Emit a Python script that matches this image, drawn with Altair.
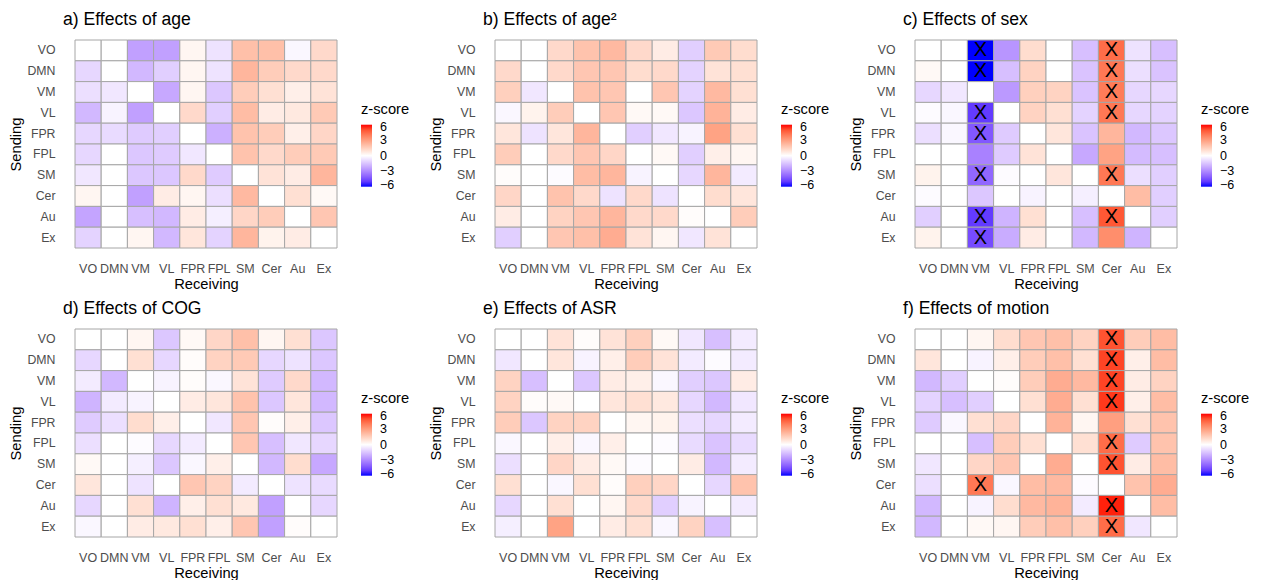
import altair as alt
import pandas as pd

NETS = ["VO", "DMN", "VM", "VL", "FPR", "FPL", "SM", "Cer", "Au", "Ex"]

TITLES = ["a) Effects of age", "b) Effects of age\u00b2", "c) Effects of sex",
          "d) Effects of COG", "e) Effects of ASR", "f) Effects of motion"]

# rows = sending (VO..Ex), columns = receiving (VO..Ex)
Z_AGE = [
    [0, 0, -2.4, -2.4, 0.3, -0.7, 2.0, 2.0, -0.2, 1.2],
    [-1.0, 0, -1.8, -1.2, 0.3, -0.7, 2.3, 1.6, 1.2, 1.2],
    [-0.8, -0.6, 0, -2.2, 0.3, -1.4, 1.6, 1.0, 0.5, 0.9],
    [-1.8, -0.3, -2.4, 0, 1.2, -1.2, 2.1, 0.6, 0.7, 1.7],
    [-1.0, -0.9, -1.3, -1.2, 0, -2.0, 1.9, 1.6, 0.5, 1.3],
    [-1.0, 0, -1.4, -1.3, -0.6, 0, 1.9, 1.2, 1.6, 1.7],
    [-0.6, 0, -1.4, -1.4, 1.2, -1.3, 0, 0.9, 0.6, 2.3],
    [0.3, 0, -2.4, 0.6, 0.3, -0.8, 2.2, 0, 1.0, 0.2],
    [-2.3, 0, -1.6, -1.8, 0.6, -0.4, 1.3, 1.6, 0, 1.8],
    [-1.1, 0, 0.3, -1.8, 0.8, -1.1, 2.3, 0.4, 0.6, 0],
]
Z_AGE2 = [
    [0, 0, 1.2, 1.9, 2.2, 1.2, 0.6, -1.2, 1.7, 1.1],
    [1.2, 0, 1.2, 1.8, 1.8, 1.1, 1.2, -1.1, 0.9, 1.0],
    [1.5, -0.6, 0, 1.9, 1.8, 0, 1.8, -1.1, 2.2, 1.0],
    [-0.2, 0.4, 1.6, 0, 1.8, 0.2, 0.2, -1.4, 2.4, 0.6],
    [0.8, -0.7, 0.8, 2.3, 0, -1.2, -0.6, -0.3, 2.9, 1.0],
    [1.6, 0, 1.2, 1.8, 1.3, 0, 0.2, -1.2, 0.5, 0.3],
    [0.1, 0, -0.1, 2.1, 2.3, -0.3, 0, -1.0, 2.3, -0.5],
    [1.3, 0, 1.9, 1.2, -0.7, 1.2, -0.7, 0, 1.1, 0.8],
    [0.6, 0, 1.4, 1.8, 2.3, 1.2, 1.2, 0.1, 0, 1.6],
    [-1.2, 0, 1.8, 2.0, 2.6, 0.9, 0.3, -0.6, 0.9, 0],
]
Z_SEX = [
    [0, 0, -6.0, -2.7, 1.1, 0, -1.6, 4.4, -0.7, -1.6],
    [0.2, 0, -6.0, -1.6, 1.4, 0, -1.5, 4.1, -0.8, -1.5],
    [-1.0, -0.6, 0, -2.6, 1.5, 1.4, -1.5, 4.0, -1.0, -1.0],
    [-0.1, -0.2, -5.0, 0, 1.4, 1.0, -1.1, 4.1, -1.0, -1.1],
    [-0.8, -0.2, -4.3, -1.3, 0, 0.8, -1.5, 2.3, -1.8, -1.4],
    [0, 0, -3.2, -1.3, 0.9, 0, -2.2, 2.9, -1.7, -1.6],
    [0.4, 0, -3.9, -0.1, 0, 0.8, 0, 4.1, -0.8, -1.2],
    [-0.1, 0, -1.4, 0, -0.3, 0, -0.4, 0, 2.1, -1.2],
    [-1.2, 0, -5.0, -1.9, 1.0, 0, -1.6, 4.9, 0, -1.2],
    [0.4, 0, -4.6, -2.1, 0.6, 0, -1.8, 3.5, -1.9, 0],
]
Z_COG = [
    [0, 0, 0.3, -1.4, 0.2, 1.3, 2.0, 0.3, 1.0, -1.4],
    [-1.0, 0, 1.0, -1.0, 0.1, 1.4, 1.7, -1.0, -0.7, -1.4],
    [-0.5, -1.8, 0, -0.3, 0.1, -0.2, 0.9, -1.3, 1.2, -1.8],
    [-1.9, -0.5, -0.3, 0, 0.6, 0.8, 1.9, -1.4, 0.8, -1.8],
    [-1.3, -0.8, 1.1, 0.5, 0, -0.6, 1.8, 0.1, 0.5, -1.4],
    [-0.8, 0, -0.1, -1.0, -0.5, 0, 1.8, -1.6, -0.6, -1.0],
    [0.2, 0, -0.4, -1.4, -0.2, 0.5, 0, -1.8, 1.1, -2.2],
    [0.8, 0, -0.7, 0, 1.8, 1.4, -0.5, 0, -0.7, -0.9],
    [-1.0, 0, 1.0, -1.9, 0.5, 1.0, 0.7, -2.4, 0, -1.0],
    [-0.2, 0, 0.6, 0.7, 1.0, 0.5, 1.8, -2.4, 0.1, 0],
]
Z_ASR = [
    [0, 0, 0.9, 0.1, 0.9, 1.5, 0.2, -0.6, -1.6, -0.5],
    [-0.6, 0, 0.8, -0.3, 0.5, 1.6, 0.9, -0.5, -0.1, -0.5],
    [1.4, -1.6, 0, -1.4, 0.6, 0.5, -0.2, -1.2, -1.4, 0.6],
    [1.4, 0.1, 0.2, 0, 0.8, 1.0, 0.7, -1.0, -1.8, -0.6],
    [1.6, -1.4, 1.4, 1.4, 0, 0.3, 0.4, -0.8, -1.0, -0.5],
    [-0.2, 0, 0.5, -0.2, 0.5, 0, -0.1, -0.9, -1.5, -0.9],
    [-0.8, 0, 1.3, 0.6, 0.2, -0.1, 0, 0.6, -1.8, -0.5],
    [1.0, 0, -0.2, 1.0, 0.1, 1.5, 1.3, 0, -1.0, 1.9],
    [-1.0, 0, 1.0, 0, 0.3, 1.2, -1.2, -0.3, 0, -0.5],
    [-0.4, 0, 2.9, 0, 0.6, 1.0, -0.2, 1.4, -1.6, 0],
]
Z_MOTION = [
    [0, 0, 0.3, 1.1, 1.8, 2.0, 1.4, 5.0, 1.6, 2.1],
    [0.8, 0, -0.3, 0.5, 1.6, 2.0, 1.0, 5.3, 0.5, 2.1],
    [-1.8, -1.2, 0, 0.1, 1.6, 2.6, 2.2, 5.3, 0.6, 1.4],
    [-1.1, -1.6, -1.2, 0, 1.0, 2.6, 1.0, 5.5, 0.5, 2.1],
    [-1.3, -0.2, 1.0, 1.3, 0, 2.4, 0.3, 3.0, 1.0, 1.9],
    [0, 0, -1.6, 1.6, 1.0, 0, 1.0, 4.4, -1.3, 1.9],
    [-0.6, 0, 1.3, 1.8, 0, 2.6, 0, 5.0, 0.6, 2.1],
    [-0.8, 0, 4.1, -0.2, 2.1, 2.2, -0.1, 0, 1.9, 2.6],
    [-1.8, 0, -0.3, 1.1, 2.2, 2.4, -0.5, 5.8, 0, 2.1],
    [-1.8, 0, 0.2, 0.3, 1.6, 2.0, 1.5, 4.4, -0.6, 0],
]

# significant cells (sending, receiving) marked with X
SIG_AGE = []
SIG_AGE2 = []
SIG_SEX = [("VO", "VM"), ("DMN", "VM"), ("VL", "VM"), ("FPR", "VM"), ("SM", "VM"),
           ("Au", "VM"), ("Ex", "VM"), ("VO", "Cer"), ("DMN", "Cer"), ("VM", "Cer"),
           ("VL", "Cer"), ("SM", "Cer"), ("Au", "Cer")]
SIG_COG = []
SIG_ASR = []
SIG_MOTION = [("VO", "Cer"), ("DMN", "Cer"), ("VM", "Cer"), ("VL", "Cer"),
              ("FPL", "Cer"), ("SM", "Cer"), ("Cer", "VM"), ("Au", "Cer"), ("Ex", "Cer")]

PANELS = [(Z_AGE, SIG_AGE), (Z_AGE2, SIG_AGE2), (Z_SEX, SIG_SEX),
          (Z_COG, SIG_COG), (Z_ASR, SIG_ASR), (Z_MOTION, SIG_MOTION)]

# legend tick positions (ends pulled slightly inside the bar so labels centre on them)
LEGEND_TICKS = [5.6, 3, 0, -3, -5.6]

FONT = "Liberation Sans"
W, H = 262, 208


def panel(title, z, sig):
    rows = []
    for i, s in enumerate(NETS):
        for j, r in enumerate(NETS):
            rows.append({"Sending": s, "Receiving": r, "z": z[i][j],
                         "mark": "X" if (s, r) in sig else ""})
    df = pd.DataFrame(rows)
    x = alt.X("Receiving:N", sort=NETS, title="Receiving",
              axis=alt.Axis(labelAngle=0, ticks=False, domain=False, labelPadding=14,
                            titlePadding=2, labelColor="#4D4D4D", labelFontSize=12.5,
                            titleFontSize=14.7, titleFontWeight="normal",
                            labelFont=FONT, titleFont=FONT))
    y = alt.Y("Sending:N", sort=NETS, title="Sending",
              axis=alt.Axis(ticks=False, domain=False, labelPadding=20, titlePadding=3,
                            labelColor="#4D4D4D", labelFontSize=12.3, titleFontSize=14.7,
                            titleFontWeight="normal", labelFont=FONT, titleFont=FONT))
    color = alt.Color("z:Q", title="z-score",
                      scale=alt.Scale(domain=[-6, 0, 6], range=["#0000FF", "#FFFFFF", "#FF0000"],
                                      interpolate="lab", clamp=True),
                      legend=alt.Legend(orient="none", legendX=W + 24, legendY=62,
                                        values=LEGEND_TICKS, gradientLength=62,
                                        gradientThickness=11, labelOffset=8,
                                        labelOverlap=False,
                                        labelExpr="datum.value > 5 ? '6' : datum.value < -5 ? '\u22126' : datum.label",
                                        titleFontSize=14.7, titleFontWeight="normal",
                                        labelFontSize=12.5, labelColor="#000000",
                                        titleFont=FONT, labelFont=FONT, titlePadding=8,
                                        gradientStrokeWidth=0))
    rect = alt.Chart(df).mark_rect(stroke="#A6A6A6", strokeWidth=1).encode(x=x, y=y, color=color)
    txt = alt.Chart(df).transform_filter("datum.mark != ''").mark_text(
        fontSize=20, font=FONT, color="black", baseline="middle").encode(
        x=alt.X("Receiving:N", sort=NETS), y=alt.Y("Sending:N", sort=NETS), text="mark:N")
    return alt.layer(rect, txt).properties(
        width=W, height=H,
        title=alt.TitleParams(title, anchor="start", fontSize=17.6, fontWeight="normal",
                              font=FONT, dx=-12, offset=11, frame="group", color="black"))


charts = [panel(t, z, s) for t, (z, s) in zip(TITLES, PANELS)]
chart = alt.concat(*charts, columns=3, spacing={"row": 7, "column": 18}).resolve_scale(
    color="independent").properties(padding={"left": 0, "top": 2, "right": 2, "bottom": 2}
).configure_view(stroke=None)

chart.save("out.html", embed_options={"renderer": "svg", "actions": False})
